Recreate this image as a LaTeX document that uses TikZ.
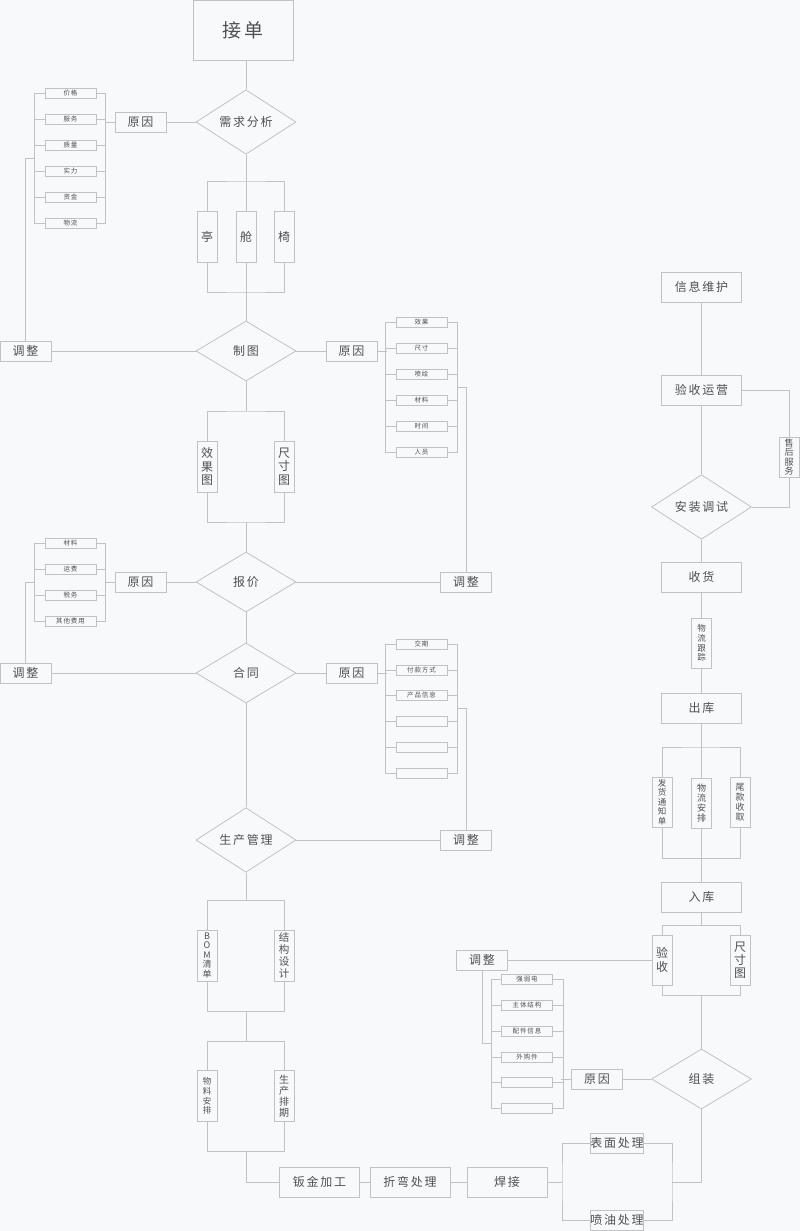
\documentclass[tikz,border=0pt]{standalone}
\usepackage{fontspec}
\setmainfont{Noto Sans CJK SC}[LetterSpace=15]
\usetikzlibrary{shapes.geometric}
\definecolor{bg}{HTML}{F8F9FB}
\definecolor{ln}{HTML}{C2C2C2}
\definecolor{tx}{HTML}{505050}
\newcommand\myfs[2]{\fontsize{#1}{#2}\selectfont}
\begin{document}
\begin{tikzpicture}[x=1pt,y=-1pt,
 every node/.style={text=tx},
 conn/.style={draw=ln,line width=0.8pt},
 box/.style={draw=ln,fill=bg,line width=0.8pt,inner sep=0pt},
 wbox/.style={box,minimum width=80pt,minimum height=30pt,font=\myfs{12}{12}},
 rbox/.style={box,minimum width=51pt,minimum height=20pt,font=\myfs{12}{12}},
 sbox/.style={box,minimum width=51pt,minimum height=10pt,font=\myfs{6.5}{6.5}},
 vbox/.style={box,minimum width=20pt,minimum height=51pt,align=center},
 dia/.style={diamond,draw=ln,fill=bg,line width=0.8pt,inner sep=0pt,minimum width=100pt,minimum height=60pt,font=\myfs{12}{12}},
]
\fill[bg] (0,0) rectangle (800,1231);
\useasboundingbox (0,0) rectangle (800,1231);

% ---------- left column nodes ----------
\node[box,minimum width=100pt,minimum height=60pt,font=\myfs{19}{19}] (jd) at (243,30) {接单};
\node[dia] (xq) at (246,122) {需求分析};
\node[rbox] (yy1) at (140.5,122) {原因};
\foreach \t/\yy [count=\i] in {价格/93,服务/119,质量/145,实力/171,资金/197,物流/223}
  \node[sbox] (la-\i) at (70.5,\yy) {\t};
\node[rbox] (tz1) at (25.5,351) {调整};

\node[vbox,font=\myfs{12}{13}] (ting) at (207,236.5) {亭};
\node[vbox,font=\myfs{12}{13}] (cang) at (246,236.5) {舱};
\node[vbox,font=\myfs{12}{13}] (yi) at (284,236.5) {椅};

\node[dia] (zt) at (246,351) {制图};
\node[rbox] (yy2) at (351.5,351) {原因};
\foreach \t/\yy [count=\i] in {效果/322,尺寸/348,喷绘/374,材料/400,时间/426,人员/452}
  \node[sbox] (lb-\i) at (421.5,\yy) {\t};

\node[vbox,font=\myfs{12}{13.3}] (xgt) at (207,466.5) {效\\果\\图};
\node[vbox,font=\myfs{12}{13.3}] (cct) at (284,466.5) {尺\\寸\\图};

\node[dia] (bj) at (246,582) {报价};
\node[rbox] (yy3) at (140.5,582) {原因};
\foreach \t/\yy [count=\i] in {材料/543,运费/569,税务/595,其他费用/621}
  \node[sbox] (lc-\i) at (70.5,\yy) {\t};
\node[rbox] (tz2) at (466,582) {调整};
\node[rbox] (tz3) at (25.5,673) {调整};

\node[dia] (ht) at (246,673) {合同};
\node[rbox] (yy4) at (351.5,673) {原因};
\foreach \t/\yy [count=\i] in {交期/644,付款方式/670,产品信息/695,{}/721,{}/747,{}/773}
  \node[sbox] (ld-\i) at (421.5,\yy) {\t};

\node[dia] (sc) at (246,840) {生产管理};
\node[rbox] (tz4) at (466,840) {调整};

\node[vbox,font=\myfs{9}{9.5}] (bom) at (207,955.5) {B\\O\\M\\清\\单};
\node[vbox,font=\myfs{10.5}{11.7}] (jg) at (284,955.5) {结\\构\\设\\计};
\node[vbox,font=\myfs{8.5}{9.6}] (wlap) at (207,1096) {物\\料\\安\\排};
\node[vbox,font=\myfs{10}{11}] (scpq) at (284,1096) {生\\产\\排\\期};

\node[wbox] (bj2) at (319.5,1182) {钣金加工};
\node[wbox] (zw) at (410,1182) {折弯处理};
\node[wbox] (hj) at (507,1182) {焊接};
\node[rbox] (bm) at (617,1143) {表面处理};
\node[rbox] (py) at (617,1220) {喷油处理};

% ---------- right column nodes ----------
\node[wbox] (xx) at (701.5,287) {信息维护};
\node[wbox] (ysyy) at (701.5,390) {验收运营};
\node[vbox,minimum height=40pt,font=\myfs{9}{9.5}] (shfw) at (789,457) {售\\后\\服\\务};
\node[dia] (az) at (701.5,507) {安装调试};
\node[wbox] (sh) at (701.5,577) {收货};
\node[vbox,minimum height=50pt,font=\myfs{8.5}{9.6}] (wlgz) at (701.5,643) {物\\流\\跟\\踪};
\node[wbox] (ck) at (701.5,708) {出库};
\node[vbox,minimum height=50pt,font=\myfs{8.5}{9.6}] (fh) at (662,802) {发\\货\\通\\知\\单};
\node[vbox,minimum height=50pt,font=\myfs{9}{10}] (wl) at (701.5,803) {物\\流\\安\\排};
\node[vbox,minimum height=50pt,font=\myfs{9}{10}] (wk) at (740,802.5) {尾\\款\\收\\取};
\node[wbox] (rk) at (701.5,897) {入库};
\node[vbox,minimum height=50pt,font=\myfs{12}{14}] (ys) at (662,960) {验\\收};
\node[vbox,minimum height=50pt,font=\myfs{12}{13}] (cc2) at (740,960) {尺\\寸\\图};
\node[rbox] (tz5) at (482,960) {调整};
\node[dia] (zz) at (701.5,1079) {组装};
\node[rbox] (yy5) at (597,1079) {原因};
\foreach \t/\yy [count=\i] in {强弱电/979,主体结构/1005,配件信息/1031,外购件/1057,{}/1082,{}/1108}
  \node[sbox] (le-\i) at (527,\yy) {\t};

% ---------- coordinates ----------
\coordinate (ca) at (35,158);
\coordinate (cb) at (457,387);
\coordinate (cc) at (35,582);
\coordinate (cd) at (457,708);
\coordinate (ce) at (491.5,1043);
\coordinate (b1) at (246,181);
\coordinate (b2) at (246,292);
\coordinate (b3) at (246,411);
\coordinate (b4) at (246,522);
\coordinate (b5) at (246,900);
\coordinate (b6) at (246,1011);
\coordinate (b7) at (246,1041);
\coordinate (b8) at (246,1151);
\coordinate (c5) at (562,1182);
\coordinate (c6) at (672,1182);
\coordinate (b9) at (701.5,925);
\coordinate (b10) at (701.5,995);
\coordinate (b11) at (701.5,747);
\coordinate (b12) at (701.5,858);

% ---------- brackets ----------
\foreach \l/\n in {la/6,lc/4}{
  \draw[conn] (\l-1.west) -- ++(-10,0) |- (\l-\n.west);
  \draw[conn] (\l-1.east) -- ++(9,0) |- (\l-\n.east);
  \foreach \i in {2,...,\n}{
    \draw[conn] (\l-\i.west) -- ++(-10,0);
    \draw[conn] (\l-\i.east) -- ++(9,0);
  }
}
\foreach \l in {lb,ld,le}{
  \draw[conn] (\l-1.west) -- ++(-10,0) |- (\l-6.west);
  \draw[conn] (\l-1.east) -- ++(10,0) |- (\l-6.east);
  \foreach \i in {2,...,5}{
    \draw[conn] (\l-\i.west) -- ++(-10,0);
    \draw[conn] (\l-\i.east) -- ++(10,0);
  }
}

% ---------- left column connectors ----------
\draw[conn] (jd.south -| xq.north) -- (xq.north);
\draw[conn] (xq.west) -- (yy1.east);
\draw[conn] (yy1.west) -- ++(-10,0);
\draw[conn] (ca) -| (tz1.north);
\draw[conn] (xq.south) -- (cang.north);
\draw[conn] (ting.north) |- (b1) -| (yi.north);
\draw[conn] (ting.south) |- (b2) -| (yi.south);
\draw[conn] (cang.south) -- (zt.north);
\draw[conn] (tz1.east) -- (zt.west);
\draw[conn] (zt.east) -- (yy2.west);
\draw[conn] (yy2.east) -- ++(10,0);
\draw[conn] (cb) -| (tz2.north);
\draw[conn] (zt.south) -- (b3);
\draw[conn] (xgt.north) |- (b3) -| (cct.north);
\draw[conn] (xgt.south) |- (b4) -| (cct.south);
\draw[conn] (b4) -- (bj.north);
\draw[conn] (bj.east) -- (tz2.west);
\draw[conn] (bj.west) -- (yy3.east);
\draw[conn] (yy3.west) -- ++(-10,0);
\draw[conn] (cc) -| (tz3.north);
\draw[conn] (tz3.east) -- (ht.west);
\draw[conn] (bj.south) -- (ht.north);
\draw[conn] (ht.east) -- (yy4.west);
\draw[conn] (yy4.east) -- ++(10,0);
\draw[conn] (cd) -| (tz4.north);
\draw[conn] (ht.south) -- (sc.north);
\draw[conn] (sc.east) -- (tz4.west);
\draw[conn] (sc.south) -- (b5);
\draw[conn] (bom.north) |- (b5) -| (jg.north);
\draw[conn] (bom.south) |- (b6) -| (jg.south);
\draw[conn] (b6) -- (b7);
\draw[conn] (wlap.north) |- (b7) -| (scpq.north);
\draw[conn] (wlap.south) |- (b8) -| (scpq.south);
\draw[conn] (b8) |- (bj2.west);
\draw[conn] (bj2.east) -- (zw.west);
\draw[conn] (zw.east) -- (hj.west);
\draw[conn] (hj.east) -- (c5);
\draw[conn] (bm.west) -| (c5) |- (py.west);
\draw[conn] (bm.east) -| (c6) |- (py.east);
\draw[conn] (c6) -| (zz.south);

% ---------- right column connectors ----------
\draw[conn] (xx.south) -- (ysyy.north);
\draw[conn] (ysyy.south) -- (az.north);
\draw[conn] (ysyy.east) -| (shfw.north);
\draw[conn] (shfw.south) |- (az.east);
\draw[conn] (az.south) -- (sh.north);
\draw[conn] (sh.south) -- (wlgz.north);
\draw[conn] (wlgz.south) -- (ck.north);
\draw[conn] (ck.south) -- (wl.north);
\draw[conn] (fh.north) |- (b11) -| (wk.north);
\draw[conn] (fh.south) |- (b12) -| (wk.south);
\draw[conn] (wl.south) -- (rk.north);
\draw[conn] (rk.south) -- (b9);
\draw[conn] (ys.north) |- (b9) -| (cc2.north);
\draw[conn] (ys.south) |- (b10) -| (cc2.south);
\draw[conn] (b10) -- (zz.north);
\draw[conn] (tz5.east) -- (ys.west);
\draw[conn] (zz.west) -- (yy5.east);
\draw[conn] (yy5.west) -- ++(-10,0);
\draw[conn] (ce) -| (tz5.south);
\end{tikzpicture}
\end{document}
